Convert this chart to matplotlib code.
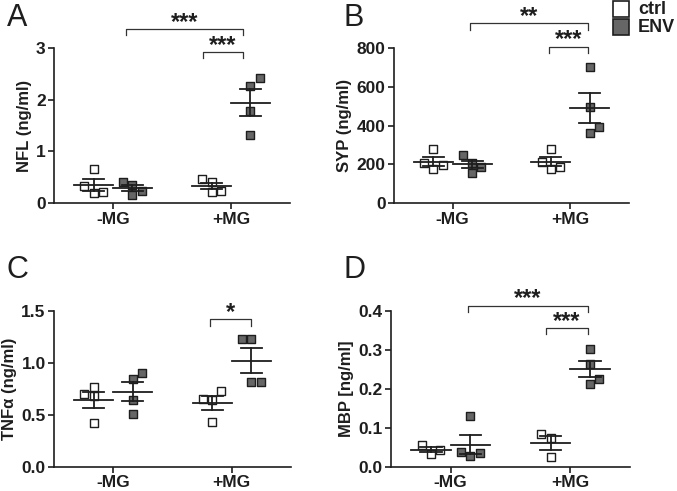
import numpy as np
import matplotlib
matplotlib.use('Agg')
from matplotlib import pyplot as plt

plt.rcParams['font.family'] = ['Liberation Sans', 'DejaVu Sans']

groups = ['-MG', '+MG']

# panel A - NFL
nfl_ctrl = [[0.67, 0.34, 0.19, 0.22], [0.47, 0.42, 0.21, 0.24]]
nfl_env = [[0.41, 0.36, 0.16, 0.24], [2.27, 2.42, 1.77, 1.31]]
# panel B - SYP
syp_ctrl = [[277, 205, 178, 195], [277, 212, 178, 185]]
syp_env = [[247, 209, 158, 188], [702, 497, 394, 363]]
# panel C - TNFa
tnf_ctrl = [[0.70, 0.77, 0.68, 0.42], [0.65, 0.64, 0.73, 0.43]]
tnf_env = [[0.90, 0.84, 0.64, 0.51], [1.23, 1.23, 0.81, 0.81]]
# panel D - MBP
mbp_ctrl = [[0.056, 0.032, 0.043], [0.083, 0.073, 0.025]]
mbp_env = [[0.129, 0.037, 0.027, 0.034], [0.303, 0.263, 0.226, 0.211]]

# horizontal jitter of the points (positions, not data)
jit_a = {('c', 0): [0, -1, 0, 1], ('e', 0): [-1, 0, 0, 1],
         ('c', 1): [-1, 0, 0, 1], ('e', 1): [0, 1, 0, 0]}
jit_b = {('c', 0): [0, -1, 0, 1], ('e', 0): [-1, 0, 0, 1],
         ('c', 1): [0, -1, 0, 1], ('e', 1): [0, 0, 1, 0]}
jit_c = {('c', 0): [-1, 0, 0, 0], ('e', 0): [1, 0, 0, 0],
         ('c', 1): [-1, 0, 1, 0], ('e', 1): [-1, 0, 0, 1]}
jit_d = {('c', 0): [-1, 0, 1], ('e', 0): [0, -1, 0, 1],
         ('c', 1): [-1, 0, 0], ('e', 1): [0, 0, 1, 0]}

panels = [
    ('A', nfl_ctrl, nfl_env, jit_a, 'NFL (ng/ml)', (0, 3), [0, 1, 2, 3], '%g',
     [(0.11, 1.10, 3.24, 3.36, '***'), (0.765, 1.10, 2.80, 2.92, '***')]),
    ('B', syp_ctrl, syp_env, jit_b, 'SYP (ng/ml)', (0, 800), [0, 200, 400, 600, 800], '%g',
     [(0.15, 1.155, 891, 925, '**'), (0.816, 1.155, 771, 805, '***')]),
    ('C', tnf_ctrl, tnf_env, jit_c, 'TNF\u03b1 (ng/ml)', (0, 1.5), [0, 0.5, 1.0, 1.5], '%.1f',
     [(0.82, 1.166, 1.356, 1.42, '*')]),
    ('D', mbp_ctrl, mbp_env, jit_d, 'MBP [ng/ml]', (0, 0.4), [0, 0.1, 0.2, 0.3, 0.4], '%.1f',
     [(0.146, 1.145, 0.397, 0.413, '***'), (0.80, 1.145, 0.339, 0.355, '***')]),
]

rects = {'A': [54, 47.7, 290, 203.3], 'B': [394, 47.7, 629, 203.3],
         'C': [54, 310.7, 291, 466.7], 'D': [391, 310.7, 630, 466.7]}
letter_pos = {'A': (7, 18), 'B': (343, 18), 'C': (7, 270), 'D': (343, 270)}

W, H = 677, 491
fig = plt.figure(figsize=(W / 100, H / 100), dpi=100)

off = 0.165
dj = 0.078
face = {'c': 'white', 'e': '#666666'}
ink = '#1e1e1e'

for name, ctrl, env, jit, ylab, ylim, yt, fmt, brackets in panels:
    l, t, r, b = rects[name]
    ax = fig.add_axes([l / W, 1 - b / H, (r - l) / W, (b - t) / H])
    for gi in range(2):
        for key, vals, sign in (('c', ctrl[gi], -1), ('e', env[gi], 1)):
            xc = gi + sign * off
            v = np.array(vals)
            xs = xc + np.array(jit[(key, gi)]) * dj
            ax.scatter(xs, v, marker='s', s=34, facecolor=face[key],
                       edgecolor=ink, linewidth=1.0, zorder=3, clip_on=False)
            m = v.mean()
            se = v.std(ddof=1) / np.sqrt(len(v))
            ax.plot([xc - 0.165, xc + 0.165], [m, m], color=ink, lw=1.3, zorder=4)
            ax.plot([xc - 0.09, xc + 0.09], [m + se, m + se], color=ink, lw=1.3, zorder=4)
            ax.plot([xc - 0.09, xc + 0.09], [m - se, m - se], color=ink, lw=1.3, zorder=4)
            ax.plot([xc, xc], [m - se, m + se], color=ink, lw=1.3, zorder=4)
    for x0, x1, y0, y1, star in brackets:
        ax.plot([x0, x0, x1, x1], [y0, y1, y1, y0], color='#333333', lw=0.9, clip_on=False)
        ax.text((x0 + x1) / 2, y1 - (ylim[1] - ylim[0]) * 0.03, star, ha='center', va='bottom',
                fontsize=17, fontweight='bold', color=ink)
    ax.set_xlim(-0.5, 1.5)
    ax.set_ylim(*ylim)
    ax.set_yticks(yt)
    ax.set_yticklabels([fmt % v for v in yt])
    ax.set_xticks([0, 1])
    ax.set_xticklabels(groups)
    ax.spines['top'].set_visible(False)
    ax.spines['right'].set_visible(False)
    ax.spines['left'].set_linewidth(1.2)
    ax.spines['bottom'].set_linewidth(1.2)
    ax.spines['left'].set_color(ink)
    ax.spines['bottom'].set_color(ink)
    ax.tick_params(length=4, width=1.2, labelsize=12.5, pad=2, colors=ink)
    for lab in ax.get_xticklabels() + ax.get_yticklabels():
        lab.set_fontweight('bold')
    ax.set_ylabel(ylab, fontsize=12, fontweight='bold', labelpad=3, color=ink)
    lx, ly = letter_pos[name]
    fig.text(lx / W, 1 - ly / H, name, fontsize=22, ha='left', va='center', color=ink)

# legend
for yy, fc, lab in ((9, 'white', 'ctrl'), (27, '#666666', 'ENV')):
    fig.patches.append(plt.Rectangle((613 / W, 1 - (yy + 8) / H), 16 / W, 16 / H,
                                     transform=fig.transFigure, facecolor=fc,
                                     edgecolor=ink, linewidth=1.2))
    fig.text(638 / W, 1 - yy / H, lab, fontsize=13, fontweight='bold', va='center', color=ink)

fig.savefig('out.png', dpi=100)
